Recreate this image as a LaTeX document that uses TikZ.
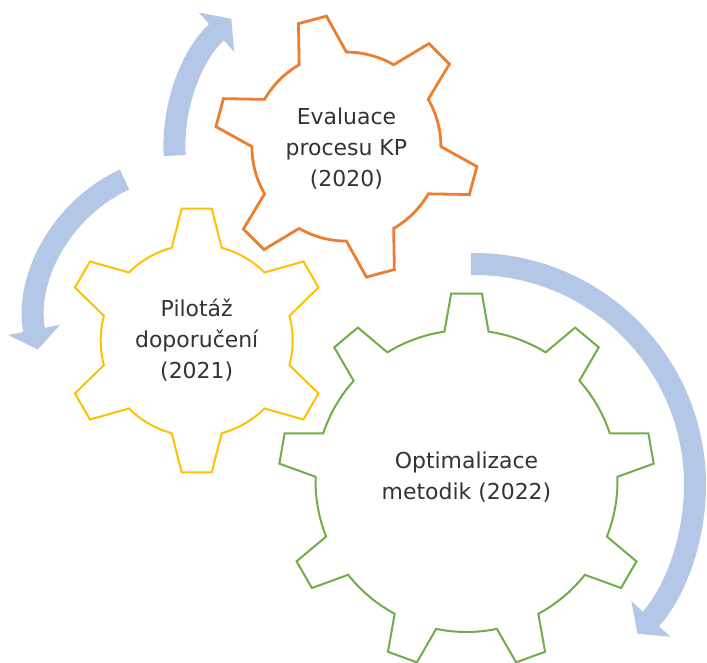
\documentclass[tikz,border=0pt]{standalone}
\usepackage{fontspec}
\setmainfont{DejaVu Sans}
\usetikzlibrary{arrows.meta,calc}
\definecolor{gearorange}{HTML}{ED7D31}
\definecolor{gearyellow}{HTML}{FFC000}
\definecolor{geargreen}{HTML}{70AD47}
\definecolor{arrowblue}{HTML}{B4C7E7}

\begin{document}
\begin{tikzpicture}[x=0.025cm,y=0.025cm,
gearline/.style={line width=0.05cm, line join=miter},
cyclearrow/.style={draw=arrowblue, line width=0.55cm, -{Triangle[length=0.5cm,width=1.3cm]}},
gearlabel/.style={align=center, text=black!80, font=\fontsize{15.6}{22}\selectfont},
]
\useasboundingbox (0,0) rectangle (707,662);

%Centres
\coordinate (evalc)  at (346.4,515.4);
\coordinate (pilotc) at (196.7,321.5);
\coordinate (optimc) at (466.5,181);

%Gears
\foreach \c/\n/\off/\R/\r/\t/\b/\col/\w in {evalc/6/105/132/94.5/6.3/15.0/gearorange/0.07cm,
                                            pilotc/6/90/132.8/96/6.5/15.1/gearyellow/0.05cm,
                                            optimc/9/90/188/151/4.7/8.4/geargreen/0.05cm}
  \draw[gearline, line width=\w, draw=\col, shift={(\c)}] ({\off-\b}:\r)
    \foreach \k in {1,...,\n}{
      -- ({\off+(\k-1)*360/\n-\t}:\R) -- ({\off+(\k-1)*360/\n+\t}:\R)
      -- ({\off+(\k-1)*360/\n+\b}:\r)
      arc[start angle={\off+(\k-1)*360/\n+\b}, end angle={\off+\k*360/\n-\b}, radius=\r]
    } -- cycle;

%Labels
\node[gearlabel] (eval)  at (346.4,513) {Evaluace\\procesu KP\\(2020)};
\node[gearlabel] (pilot) at (196.7,321.5) {Pilotáž\\doporučení\\(2021)};
\node[gearlabel] (optim) at (466.5,185) {Optimalizace\\metodik (2022)};

%Arrows
\coordinate (arrowa) at (346.4,515.4);
\coordinate (arrowb) at (190,342);
\coordinate (arrowc) at (474,177);
\draw[cyclearrow] ($(arrowa)+(183:172)$) arc[start angle=183, end angle=132, radius=172];
\draw[cyclearrow] ($(arrowb)+(115:155)$) arc[start angle=115, end angle=191, radius=155];
\draw[cyclearrow] ($(arrowc)+(90.8:221)$) arc[start angle=90.8, end angle=-42.3, radius=221];

\end{tikzpicture}
\end{document}
